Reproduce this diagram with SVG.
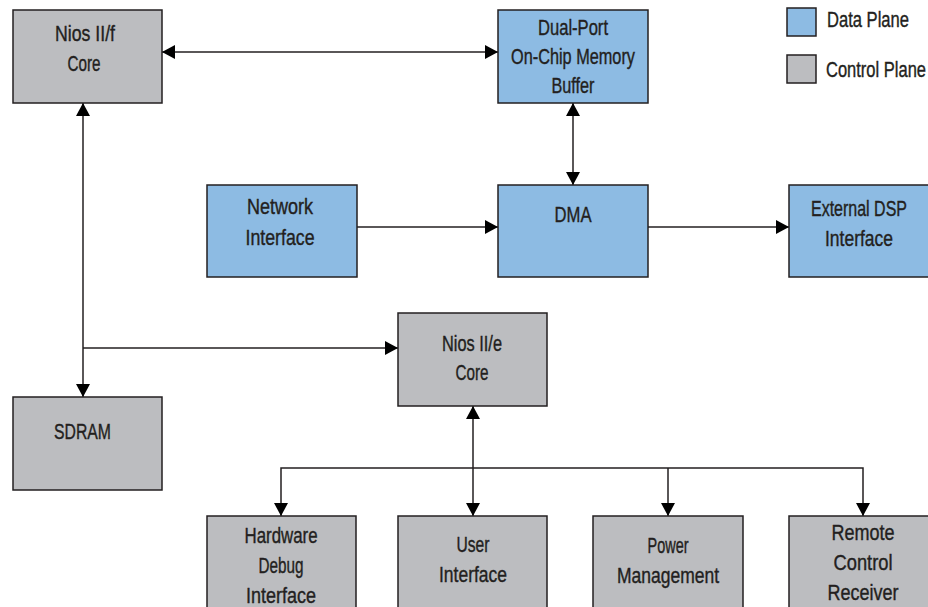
<svg xmlns="http://www.w3.org/2000/svg" width="928" height="607" viewBox="0 0 928 607">
  <style>
    .data { fill: #8dbbe3; stroke: #231f20; stroke-width: 1.5; }
    .ctrl { fill: #bcbdc0; stroke: #231f20; stroke-width: 1.5; }
    text { font-family: "Liberation Sans", Arial, sans-serif; font-size: 22.5px; fill: #231f20; stroke: #231f20; stroke-width: 0.4; }
    .lbl { text-anchor: middle; }
    .conn { fill: none; stroke: #231f20; stroke-width: 1.5; }
  </style>
  <defs>
    <marker id="arr" viewBox="0 0 13 14" refX="13" refY="7" markerWidth="13" markerHeight="14" markerUnits="userSpaceOnUse" orient="auto-start-reverse">
      <path d="M0,0 L13,7 L0,14 Z" fill="#000"/>
    </marker>
  </defs>
  <rect width="928" height="607" fill="#fff"/>

  <g id="connectors">
    <line class="conn" x1="162" y1="52" x2="498" y2="52" marker-start="url(#arr)" marker-end="url(#arr)"/>
    <line class="conn" x1="573" y1="103" x2="573" y2="185" marker-start="url(#arr)" marker-end="url(#arr)"/>
    <line class="conn" x1="357" y1="227" x2="498" y2="227" marker-end="url(#arr)"/>
    <line class="conn" x1="648" y1="227" x2="789" y2="227" marker-end="url(#arr)"/>
    <line class="conn" x1="83" y1="103" x2="83" y2="397" marker-start="url(#arr)" marker-end="url(#arr)"/>
    <line class="conn" x1="83" y1="348" x2="398" y2="348" marker-end="url(#arr)"/>
    <line class="conn" x1="473" y1="406" x2="473" y2="516" marker-start="url(#arr)" marker-end="url(#arr)"/>
    <polyline class="conn" points="281,516 281,468 863,468 863,516" marker-start="url(#arr)" marker-end="url(#arr)"/>
    <line class="conn" x1="668" y1="468" x2="668" y2="516" marker-end="url(#arr)"/>
  </g>

  <g id="nios-f">
    <rect class="ctrl" x="13" y="10" width="149" height="93"/>
    <text class="lbl" x="85" y="41" textLength="60" lengthAdjust="spacingAndGlyphs">Nios II/f</text>
    <text class="lbl" x="84" y="71" textLength="33" lengthAdjust="spacingAndGlyphs">Core</text>
  </g>
  <g id="dual-port">
    <rect class="data" x="498" y="10" width="150" height="93"/>
    <text class="lbl" x="573" y="35" textLength="70" lengthAdjust="spacingAndGlyphs">Dual-Port</text>
    <text class="lbl" x="573" y="64" textLength="124" lengthAdjust="spacingAndGlyphs">On-Chip Memory</text>
    <text class="lbl" x="573" y="93" textLength="43" lengthAdjust="spacingAndGlyphs">Buffer</text>
  </g>
  <g id="legend">
    <rect class="data" x="787" y="8" width="29" height="28"/>
    <text x="827" y="27" textLength="82" lengthAdjust="spacingAndGlyphs">Data Plane</text>
    <rect class="ctrl" x="787" y="55" width="29" height="28"/>
    <text x="826" y="77" textLength="100" lengthAdjust="spacingAndGlyphs">Control Plane</text>
  </g>
  <g id="network">
    <rect class="data" x="207" y="185" width="150" height="92"/>
    <text class="lbl" x="280" y="214" textLength="66" lengthAdjust="spacingAndGlyphs">Network</text>
    <text class="lbl" x="280" y="245" textLength="69" lengthAdjust="spacingAndGlyphs">Interface</text>
  </g>
  <g id="dma">
    <rect class="data" x="498" y="185" width="150" height="92"/>
    <text class="lbl" x="573" y="222" textLength="37" lengthAdjust="spacingAndGlyphs">DMA</text>
  </g>
  <g id="ext-dsp">
    <rect class="data" x="789" y="185" width="150" height="92"/>
    <text class="lbl" x="859" y="216" textLength="96" lengthAdjust="spacingAndGlyphs">External DSP</text>
    <text class="lbl" x="859" y="246" textLength="68" lengthAdjust="spacingAndGlyphs">Interface</text>
  </g>
  <g id="nios-e">
    <rect class="ctrl" x="398" y="313" width="149" height="93"/>
    <text class="lbl" x="472" y="351" textLength="60" lengthAdjust="spacingAndGlyphs">Nios II/e</text>
    <text class="lbl" x="472" y="380" textLength="33" lengthAdjust="spacingAndGlyphs">Core</text>
  </g>
  <g id="sdram">
    <rect class="ctrl" x="13" y="397" width="149" height="93"/>
    <text class="lbl" x="82.5" y="439" textLength="57" lengthAdjust="spacingAndGlyphs">SDRAM</text>
  </g>
  <g id="hw-debug">
    <rect class="ctrl" x="207" y="516" width="149" height="95"/>
    <text class="lbl" x="281" y="543" textLength="73" lengthAdjust="spacingAndGlyphs">Hardware</text>
    <text class="lbl" x="281" y="573" textLength="45" lengthAdjust="spacingAndGlyphs">Debug</text>
    <text class="lbl" x="281" y="603" textLength="70" lengthAdjust="spacingAndGlyphs">Interface</text>
  </g>
  <g id="user-if">
    <rect class="ctrl" x="398" y="516" width="149" height="95"/>
    <text class="lbl" x="473" y="552" textLength="33" lengthAdjust="spacingAndGlyphs">User</text>
    <text class="lbl" x="473" y="582" textLength="68" lengthAdjust="spacingAndGlyphs">Interface</text>
  </g>
  <g id="power">
    <rect class="ctrl" x="593" y="516" width="150" height="95"/>
    <text class="lbl" x="668" y="553" textLength="41" lengthAdjust="spacingAndGlyphs">Power</text>
    <text class="lbl" x="668" y="583" textLength="102" lengthAdjust="spacingAndGlyphs">Management</text>
  </g>
  <g id="remote">
    <rect class="ctrl" x="789" y="516" width="150" height="95"/>
    <text class="lbl" x="863" y="540" textLength="63" lengthAdjust="spacingAndGlyphs">Remote</text>
    <text class="lbl" x="863" y="570" textLength="59" lengthAdjust="spacingAndGlyphs">Control</text>
    <text class="lbl" x="863" y="600" textLength="71" lengthAdjust="spacingAndGlyphs">Receiver</text>
  </g>
</svg>
